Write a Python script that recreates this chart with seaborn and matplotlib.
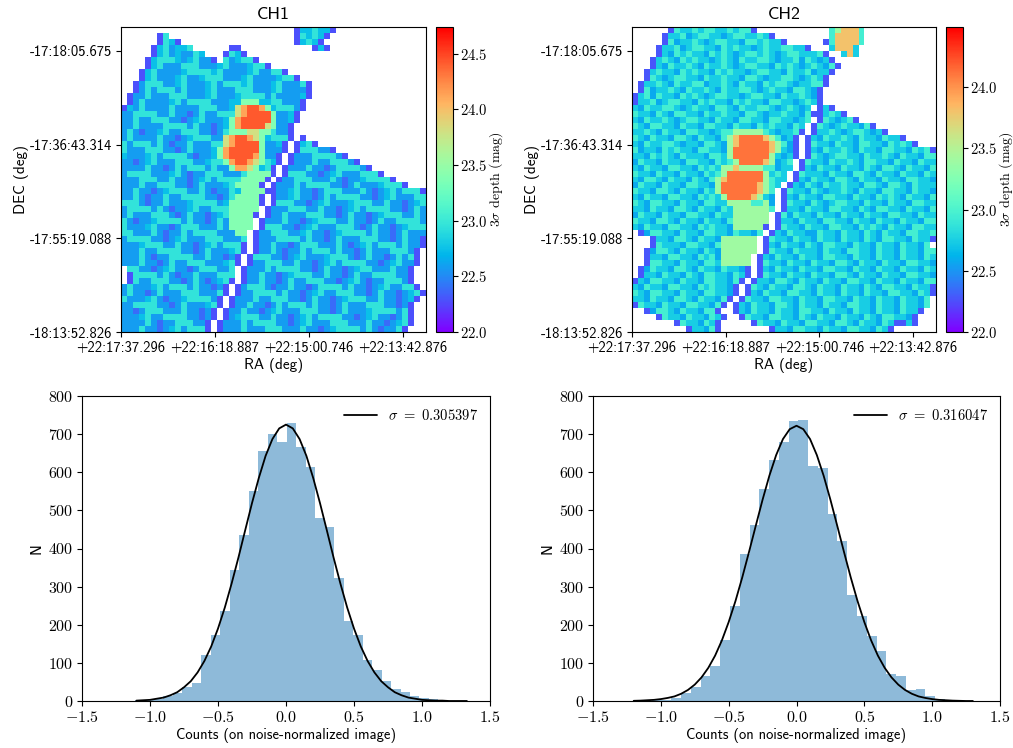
"""Depth maps and noise histograms for the two channels."""

import matplotlib

matplotlib.use("Agg")
import matplotlib.pyplot as plt
import numpy as np
import seaborn as sns

# depth in mag for each character of the map rows, '.' means no coverage
DEPTH_LEVELS = {"a": 22.28, "0": 22.38, "1": 22.58, "2": 22.74, "3": 22.96,
                "4": 23.4, "5": 23.8, "6": 24.12, "7": 24.42}

CH1_ROWS = [
    "............................. a22322a",
    "......a3 ..................... a3232a",
    "......a32a ................... a232a",
    ".....a231223 ...... aa ............ a2a",
    ".....a23121132 ... a32a",
    "....a2333212311a . 31233a",
    "....a2311133311123111233a",
    "...a23111123333231111231133a",
    "...a2311123112333111231111233a",
    "..a1 333 11 2 3 111 2 3 1 333 2 3 111 2 3 111 3 a",
    "..a 1 3 1 333 1 3 111 2 3 111 333 111 2 3 1111 a",
    ".a11 3 111 333 1112 3 1112 3 333 1 3 11112 a",
    ".a13 1111 23 1 333 3 111 22 44422 33 111 a",
    "a213 1111 3 1111 333 11 2 5 6776 4 2 333 1 a",
    "113 333 11 3 1101 3 11 333 5 67777 4 112 a",
    "11 3 11 333 1101 2 3 1112 4 677777 4 112 a",
    "11 3 1111 3 333 1 3 11012 4 67777 5 4 11 a",
    "13 10112 3 11 333 1101 3 4 44 55 4 4 3 11 a",
    "13 1111 3 11012 333 11 5 6776 5 4 2 333 a . a",
    "3 1 333 1 3 1011 3 111 33 5 67777 4 11 2 a . a23a",
    "3 111 333 1101 3 1112 4 677777 4 111 a . a 333 11 a",
    "2 111 2 3 1 333 3 1011 2 4 677776 4 11 a . a 111 3 333 1 a",
    "1101 2 3 111 333 11 2 3 3 4 6776 5 4 3 2 a . a 111 3 11 333 1 a",
    "1111 3 1101 3 1 333 1 3 114 66 5 4 2 3 a . a 111 3 1101 3 333 1 a",
    "1 333 3 111 2 3 1011 333 111 3 4444 a . a 33 3 1101 2 3 111 333 a",
    "111 333 11 3 1101 2 3 1 333 3 4444 a . a 11 333 111 3 10112 3 333 a",
    "111 3 11 333 1101 3 1112 3 4444 a . a 111 3 1 333 3 1101 3 1112 333 a",
    "11 3 1101 2 333 11 3 1011 3 2 4444 a a 112 3 1101 333 111 3 1012 3 1 333 a",
    "11 3 1011 3 11 333 3 1101 3 4444 a . a 112 3 1101 3 1 333 3 11012 3 111 33",
    "333 1011 3 1112 3 333 12 44444 a . a 333 1101 2 3 1112 333 11 3 11012 3",
    "1 3 333 1 3 10112 3 11 333 44444 . a 111 333 11 3 11012 3 1 333 3 1101 3 1",
    "1 3 111 333 101 3 11012 3 4444 a . a 11 3 111 333 1101 3 11012 333 11 3 1",
    "3 10112 3 333 1 3 1101 3 1 4444 . a 111 3 11012 333 11 3 1101 3 11 333 3 1",
    "3 1112 3 1101 333 111 3 1 4444 . a 333 11012 3 111 333 101 3 11012 3 33",
    "33 111 3 1011 3 1 333 3 111 44 . a 11 333 112 3 11012 3 333 1 3 1101 3 111",
    "1 333 3 11012 3 111 333 111 3 . a 111 3 333 1 3 1101 3 111 333 1101 3 11 a",
    "1112 333 11 3 11012 3 1 333 a . a 11 3 1101 333 111 3 1012 3 1 333 1 3 11 a",
    "111 3 11 333 3 1101 3 1112 3 a . a 11 3 1011 3 1 333 1 3 1101 3 111 33 3 1 a",
    "111 3 1011 3 333 11 3 1101 a . a 333 11012 3 1112 333 101 3 1101 3 1 3 a",
    "111 3 1101 3 11 333 1112 3 a . a 11 333 11 3 11012 3 1 333 3 11012 3 11 a",
    ". 33 11012 3 1101 333 11 3 . a 111 3 1 333 3 1101 3 11012 33 111 3 11 a",
    ". a 3 333 1 3 1011 3 111 333 . a 11 3 11012 333 11 3 1101 3 11 333 3 11 a",
    ".a 3 11 333 1101 3 1012 3 a . a 11 3 1101 3 11 333 11012 3 1011 333 1 a",
    "1 3 1112 3 1 333 1 3 1101 a . a 1 333 1011 3 1101 3 333 1 3 11012 3 11 33 a",
    "1 3 1101 3 111 333 111 3 a . a 11 3 333 1 3 11012 3 11 333 1101 3 1101 2 3 a",
    "3 1112 3 10112 3 333 1 a . a 111 3 11 333 1101 3 11012 333 11 3 11012 a",
    "11 333 3 1101 3 1112 3 a . a 11 3 1101 3 1 333 1 3 1101 3 111 333 1101 a",
    "1101 333 111 3 1101 a . a 11 3 11012 3 111 333 1101 3 1112 3 333 1 3 a",
    "1112 3 11 333 3 1101 a . a 1 2 333 11 3 11012 3 1 333 3 11012 3 1101 3 a",
    "1111 3 1011 333 11 a . a 111 3 1 333 3 11012 3 111 333 111 3 11012 3 a",
    "111 3 11012 3 1 333 a . a 111 3 111 333 111 3 11012 3 333 1 3 1011 3 a",
]

CH2_ROWS = [
    "......a322 3233223233 a......... ...345553.",
    ".....a2231 2332212332 232a...... ...355553.",
    ".....a3122 3212332213 32322a.... ..a355553.",
    "....a22312 3322132322 123223322a ...25552..",
    "....a21323 2213232123 3232123322 23a..252..",
    "...a232132 3221232132 2332122313 212a",
    "...a213223 2132232123 3221323212 3213a",
    "..a2322132 3221323221 2332213223 122a",
    "..a3212332 2132232213 3212233212 32a",
    ".a22321322 3312232132 2132332122 33a",
    ".a31223213 2232132233 2123221332 1a",
    "a231322132 3212332212 3322132232 1a",
    "a223123322 1323221323 2213322123 2a",
    "2132233212 3221332132 2332123212 .a2a",
    "3221321332 2132232213 3212232213 aa232a",
    "2132232123 3221322133 2213322123 .a32123a",
    "3213322132 2133221322 132322132. a321232213 a",
    "2232132213 3221233444 44321223a. a223212332 12a",
    "3213221332 1322134566 6654312a.a 2132232132 21322a",
    "2132233212 2133214566 6665431a.a 3221322133 2213232a",
    "3122132322 1332214666 6665421a.a 2132232132 2133221323 a",
    "2213232132 2213324666 6664212a.a 3212332213 2232132213 3",
    "1322132213 3221323466 6654123.a3 2213223213 3221322132 2",
    "2132213322 1323244544 4433122.a2 1322132213 2133213221 3",
    "3221322132 2132346666 664232.a32 2213221332 1322132213 2",
    "2133213221 3213456666 664322.a21 3221332132 2132213322 1",
    "1322132213 3221466666 65432.a213 2132232213 3213321322 2",
    "3221332132 2132466666 6543.a3221 3212232132 2133221322 1",
    "2132213322 1323246666 5421.a2132 2133221322 1323213221 3",
    "3213322132 2133224444 3341.a3221 3212332213 2213221332 2",
    "2213221332 1322132444 4443.a2213 2213322132 1332213221 3",
    "1322132213 3221322444 444.a31322 1322132213 2213322132 2",
    "3221332132 2132213444 444.a22132 2133221322 1322132213 3",
    "2132213322 1323221444 44a.a32213 2213322132 3213221332 2",
    ".a13322132 2133221322 13.a213221 1322132213 2132213322 3",
    "...a221332 1322144444 4.a3221322 1322132213 2133221322 a",
    "...a322213 3221344444 4.a2132213 2133221322 1322132213 .",
    "..a1332132 2132144444 4.a3221322 2132213322 1322132213 3",
    "..a2213322 1323144444 .a21322132 2133221322 1322132213 2",
    "..a3322132 2133244444 .a32213221 3221332132 2132213322 1",
    ".a13221332 132213221a .a21322132 2133221322 1322132213 2",
    ".a22132213 213322132a .a32213221 3221332132 2132213322 1",
    "a213322132 21332213a. a221332132 2132213322 1322132213 3",
    "2132213322 1323221a.a 3213221332 1322132213 2133221322 a",
    "3213322132 2133221a.a 2132213322 1322132213 2213322132 a",
    "2213221332 132213a.a3 2213322132 2133221322 1322132213 .",
    "a322132213 32213a.a21 3221332132 2132213322 1322132213 .",
    "..a1332132 2133a..a21 3221322133 2213221322 13221322a.",
    "....a32213 22132a..a3 2213322132 1322132213 2133221a..",
    ".......a32 2132a..... a322132213 3221332132 2132aa2a..",
    ".........a 2213a..... ...a221332 2132213322 132a......",
]

MAP_VMAX = [24.74, 24.49]
MAP_TITLES = ["CH1", "CH2"]
RA_LABELS = ["+22:17:37.296", "+22:16:18.887", "+22:15:00.746", "+22:13:42.876"]
DEC_LABELS = ["-18:13:52.826", "-17:55:19.088", "-17:36:43.314", "-17:18:05.675"]
CBAR_TICKS = [[22.0, 22.5, 23.0, 23.5, 24.0, 24.5], [22.0, 22.5, 23.0, 23.5, 24.0]]

HIST1_RANGE = (-1.11, 1.33)
HIST1_COUNTS = [2, 3, 6, 12, 21, 36, 47, 120, 172, 236, 344, 435, 550, 655, 701,
                680, 728, 667, 613, 479, 456, 323, 209, 173, 108, 82, 52, 32, 24,
                14, 7, 4, 2, 1, 1]
HIST2_RANGE = (-1.21, 1.31)
HIST2_COUNTS = [1, 1, 2, 3, 7, 22, 37, 66, 92, 160, 250, 385, 461, 555, 633, 679,
                735, 738, 616, 610, 490, 419, 277, 222, 171, 131, 70, 66, 29, 32,
                13, 4, 2, 1, 1]

CURVE1_X = [-1.10, -1.05, -1.00, -0.95, -0.90, -0.85, -0.80, -0.75, -0.70, -0.65,
            -0.60, -0.55, -0.50, -0.45, -0.40, -0.35, -0.30, -0.25, -0.20, -0.15,
            -0.10, -0.05, 0.00, 0.05, 0.10, 0.15, 0.20, 0.25, 0.30, 0.35, 0.40,
            0.45, 0.50, 0.55, 0.60, 0.65, 0.70, 0.75, 0.80, 0.85, 0.90, 0.95,
            1.00, 1.05, 1.10, 1.15, 1.20, 1.25, 1.30, 1.33]
CURVE1_Y = [1, 2, 3, 6, 9, 15, 23, 36, 52, 75, 105, 143, 190, 245, 308, 376, 448,
            519, 585, 643, 687, 715, 725, 715, 687, 643, 585, 519, 448, 376, 308,
            245, 190, 143, 105, 75, 52, 36, 23, 15, 9, 6, 3, 2, 1, 1, 0, 0, 0, 0]
CURVE2_X = [-1.20, -1.15, -1.10, -1.05, -1.00, -0.95, -0.90, -0.85, -0.80, -0.75,
            -0.70, -0.65, -0.60, -0.55, -0.50, -0.45, -0.40, -0.35, -0.30, -0.25,
            -0.20, -0.15, -0.10, -0.05, 0.00, 0.05, 0.10, 0.15, 0.20, 0.25, 0.30,
            0.35, 0.40, 0.45, 0.50, 0.55, 0.60, 0.65, 0.70, 0.75, 0.80, 0.85,
            0.90, 0.95, 1.00, 1.05, 1.10, 1.15, 1.20, 1.25, 1.30]
CURVE2_Y = [0.5, 1, 2, 3, 5, 8, 12, 19, 29, 43, 62, 87, 119, 159, 207, 262, 324,
            391, 460, 528, 591, 645, 687, 713, 722, 713, 687, 645, 591, 528, 460,
            391, 324, 262, 207, 159, 119, 87, 62, 43, 29, 19, 12, 8, 5, 3, 2, 1,
            0.5, 0, 0]
SIGMA_LABELS = [r"$\sigma\ =\ 0.305397$", r"$\sigma\ =\ 0.316047$"]

FIG_W, FIG_H = 1013, 748


def pixel_axes(figure, left, top, right, bottom):
    """Add axes placed by pixel edges measured from the top left corner."""
    return figure.add_axes([left / FIG_W, 1 - bottom / FIG_H,
                            (right - left) / FIG_W, (bottom - top) / FIG_H])


def parse_rows(rows):
    """Turn the typed map rows into a float grid with NaN where not covered."""
    grid = np.full((len(rows), 51), np.nan)
    for i, row in enumerate(rows):
        for j, char in enumerate(row.replace(" ", "")[:51]):
            if char != ".":
                grid[i, j] = DEPTH_LEVELS[char]
    return grid


def draw_map(axis, cbar_axis, rows, vmax, title, cbar_ticks):
    grid = parse_rows(rows)
    sns.heatmap(grid, cmap="rainbow", vmin=22.0, vmax=vmax, ax=axis, cbar_ax=cbar_axis,
                xticklabels=False, yticklabels=False, rasterized=True)
    for spine in axis.spines.values():
        spine.set_visible(True)
        spine.set_linewidth(0.8)
    scale = grid.shape[0] / 305
    axis.set_xticks([t * scale for t in (0, 94, 188, 282)], RA_LABELS, rotation=0)
    axis.set_yticks([t * scale for t in (305, 211, 118, 24)], DEC_LABELS, rotation=0)
    axis.tick_params(length=3.5, width=0.8, labelsize=10.5, pad=3)
    axis.set_xlabel("RA (deg)", fontsize=11, labelpad=2)
    axis.set_ylabel("DEC (deg)", fontsize=11, labelpad=0.5)
    axis.set_title(title, fontsize=13, pad=6)

    colorbar = axis.collections[0].colorbar
    colorbar.outline.set_visible(True)
    colorbar.outline.set_linewidth(0.8)
    colorbar.set_ticks(cbar_ticks, labels=[f"${t:.1f}$" for t in cbar_ticks])
    cbar_axis.tick_params(length=3.5, width=0.8, labelsize=10.5, pad=1.5)
    cbar_axis.set_ylabel(r"$3\sigma$ depth (mag)", family="cmr10", fontsize=10, labelpad=0)


def draw_hist(axis, hist_range, counts, curve_x, curve_y, label):
    edges = np.linspace(hist_range[0], hist_range[1], len(counts) + 1)
    centers = (edges[:-1] + edges[1:]) / 2
    sns.histplot(x=centers, weights=counts, bins=list(edges), color="#1f77b4", alpha=0.5,
                 linewidth=0, ax=axis)
    sns.lineplot(x=curve_x, y=curve_y, color="black", linewidth=1.3, estimator=None,
                 sort=False, label=label, ax=axis)
    axis.set_xlim(-1.5, 1.5)
    axis.set_ylim(0, 800)
    x_ticks = [-1.5, -1.0, -0.5, 0.0, 0.5, 1.0, 1.5]
    y_ticks = list(range(0, 801, 100))
    axis.set_xticks(x_ticks, [f"${t:.1f}$" for t in x_ticks])
    axis.set_yticks(y_ticks, [f"${t}$" for t in y_ticks])
    axis.tick_params(length=3.5, width=0.8, labelsize=11.5, pad=3)
    for spine in axis.spines.values():
        spine.set_visible(True)
        spine.set_linewidth(0.8)
    axis.set_xlabel("Counts (on noise-normalized image)", fontsize=10.5, labelpad=2)
    axis.set_ylabel("N", fontsize=11, labelpad=3)
    axis.legend(loc="upper right", frameon=False, fontsize=10.5, handlelength=2.2,
                borderaxespad=0.4)


def main():
    sns.set_theme(style="ticks")
    plt.rcParams["font.family"] = ["cmss10", "DejaVu Sans"]
    plt.rcParams["mathtext.fontset"] = "cm"
    plt.rcParams["axes.unicode_minus"] = False
    plt.rcParams["axes.edgecolor"] = "black"
    plt.rcParams["text.color"] = "black"
    plt.rcParams["xtick.color"] = "black"
    plt.rcParams["ytick.color"] = "black"
    plt.rcParams["axes.labelcolor"] = "black"

    figure = plt.figure(figsize=(FIG_W / 100, FIG_H / 100), dpi=100)

    map_boxes = [(121, 27, 426, 332), (632, 27, 936, 332)]
    cbar_boxes = [(436, 27, 453, 332), (946, 27, 963, 332)]
    map_rows = [CH1_ROWS, CH2_ROWS]
    for k in range(2):
        axis = pixel_axes(figure, *map_boxes[k])
        cbar_axis = pixel_axes(figure, *cbar_boxes[k])
        draw_map(axis, cbar_axis, map_rows[k], MAP_VMAX[k], MAP_TITLES[k], CBAR_TICKS[k])

    hist_left = pixel_axes(figure, 82, 396, 490, 701)
    draw_hist(hist_left, HIST1_RANGE, HIST1_COUNTS, CURVE1_X, CURVE1_Y, SIGMA_LABELS[0])
    hist_right = pixel_axes(figure, 593, 396, 1000, 701)
    draw_hist(hist_right, HIST2_RANGE, HIST2_COUNTS, CURVE2_X, CURVE2_Y, SIGMA_LABELS[1])

    figure.savefig("out.png", dpi=100)
    plt.close(figure)


main()
